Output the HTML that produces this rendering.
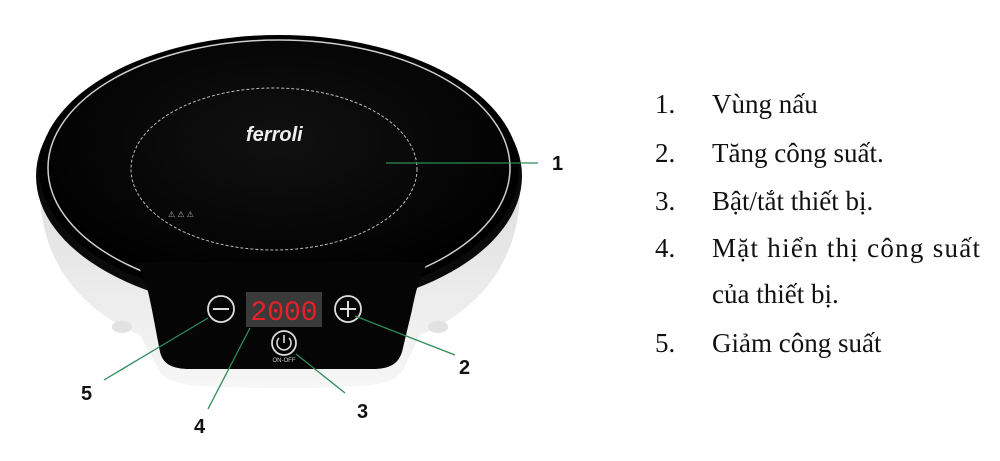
<!DOCTYPE html>
<html><head><meta charset="utf-8"><style>
html,body{margin:0;padding:0;background:#fff;width:1000px;height:461px;overflow:hidden}
svg{display:block}
.t{font-family:"Liberation Serif",serif;font-size:27px;fill:#111}
.n{font-family:"Liberation Sans",sans-serif;font-weight:bold;font-size:20px;fill:#111}
</style></head><body>
<svg width="1000" height="461" viewBox="0 0 1000 461">
<defs>
<linearGradient id="wb" x1="0" x2="0" y1="0" y2="1"><stop offset="0" stop-color="#e0e0e0"/><stop offset="1" stop-color="#f6f6f6"/></linearGradient>
<radialGradient id="top" cx="0.5" cy="0.4" r="0.6"><stop offset="0" stop-color="#111"/><stop offset="1" stop-color="#000"/></radialGradient>
</defs>
<path d="M40 190 C40 260 80 310 140 335 L160 372 C170 385 190 388 280 388 C370 388 392 385 402 372 L420 335 C480 310 520 260 520 190 Z" fill="url(#wb)"/>
<ellipse cx="122" cy="327" rx="10" ry="6" fill="#e2e2e2"/>
<ellipse cx="438" cy="327" rx="10" ry="6" fill="#e2e2e2"/>
<ellipse cx="279" cy="176" rx="243" ry="136" fill="#0a0a0a"/>
<ellipse cx="279" cy="169" rx="240" ry="134" fill="#000"/>
<ellipse cx="279" cy="168" rx="231" ry="128" fill="none" stroke="#cfcfcf" stroke-width="1.5"/>
<ellipse cx="279" cy="166" rx="228" ry="125" fill="url(#top)"/>
<path d="M135 262 C145 275 148 290 152 310 L160 352 C163 364 172 369 190 369 L372 369 C390 369 398 364 402 352 L412 310 C416 290 420 275 428 262 Z" fill="#050505"/>
<ellipse cx="274" cy="169" rx="143" ry="81" fill="none" stroke="#bbb" stroke-width="1" stroke-dasharray="3 2"/>
<text x="246" y="141" font-family="Liberation Sans,sans-serif" font-style="italic" font-weight="bold" font-size="20" fill="#eee">ferroli</text>
<text x="168" y="217" font-family="Liberation Sans,sans-serif" font-size="8" fill="#aaa">⚠ ⚠ ⚠</text>
<circle cx="221" cy="309" r="13" fill="none" stroke="#ddd" stroke-width="1.8"/>
<line x1="213" y1="309" x2="229" y2="309" stroke="#ddd" stroke-width="2"/>
<circle cx="348" cy="309" r="13" fill="none" stroke="#ddd" stroke-width="1.8"/>
<line x1="340" y1="309" x2="356" y2="309" stroke="#ddd" stroke-width="2"/>
<line x1="348" y1="301" x2="348" y2="317" stroke="#ddd" stroke-width="2"/>
<rect x="246" y="292" width="76" height="35" fill="#3a3a3a"/>
<text x="284" y="320" text-anchor="middle" font-family="Liberation Mono,monospace" font-size="28" fill="#e8202a">2000</text>
<circle cx="284" cy="343" r="12" fill="none" stroke="#ddd" stroke-width="1.8"/>
<path d="M279 338 A7 7 0 1 0 289 338" fill="none" stroke="#ddd" stroke-width="1.6"/>
<line x1="284" y1="335" x2="284" y2="343" stroke="#ddd" stroke-width="1.6"/>
<text x="284" y="362" text-anchor="middle" font-family="Liberation Sans,sans-serif" font-size="6" fill="#ccc">ON-OFF</text>
<g stroke="#2e8b57" stroke-width="1.3">
<line x1="386" y1="163" x2="538" y2="163"/>
<line x1="355" y1="316" x2="455" y2="355"/>
<line x1="296" y1="354" x2="345" y2="393"/>
<line x1="250" y1="328" x2="208" y2="409"/>
<line x1="208" y1="318" x2="104" y2="380"/>
</g>
<text class="n" x="552" y="170">1</text>
<text class="n" x="459" y="374">2</text>
<text class="n" x="357" y="418">3</text>
<text class="n" x="194" y="433">4</text>
<text class="n" x="81" y="400">5</text>
<text class="t" x="655" y="113">1.</text><text class="t" x="712" y="113">Vùng nấu</text>
<text class="t" x="655" y="162">2.</text><text class="t" x="712" y="162">Tăng công suất.</text>
<text class="t" x="655" y="210">3.</text><text class="t" x="712" y="210">Bật/tắt thiết bị.</text>
<text class="t" x="655" y="257">4.</text><text class="t" x="712" y="257" textLength="268" lengthAdjust="spacing">Mặt hiển thị công suất</text>
<text class="t" x="712" y="303">của thiết bị.</text>
<text class="t" x="655" y="352">5.</text><text class="t" x="712" y="352">Giảm công suất</text>
</svg>
</body></html>
